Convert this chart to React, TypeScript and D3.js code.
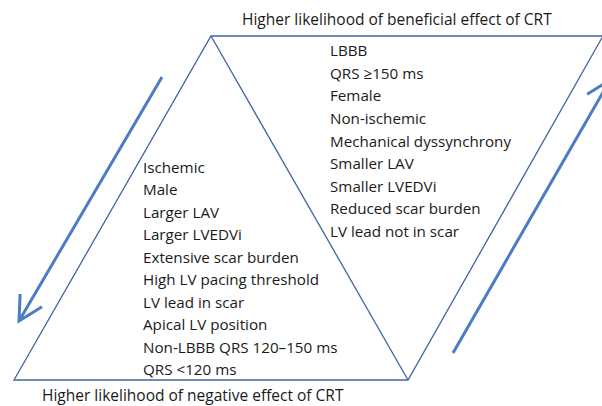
import React from "react";
import * as d3 from "d3";

const TOP_TITLE = "Higher likelihood of beneficial effect of CRT";
const BOTTOM_TITLE = "Higher likelihood of negative effect of CRT";

const BENEFIT_FACTORS = [
  "LBBB",
  "QRS \u2265150 ms",
  "Female",
  "Non-ischemic",
  "Mechanical dyssynchrony",
  "Smaller LAV",
  "Smaller LVEDVi",
  "Reduced scar burden",
  "LV lead not in scar",
];

const NEGATIVE_FACTORS = [
  "Ischemic",
  "Male",
  "Larger LAV",
  "Larger LVEDVi",
  "Extensive scar burden",
  "High LV pacing threshold",
  "LV lead in scar",
  "Apical LV position",
  "Non-LBBB QRS 120\u2013150 ms",
  "QRS <120 ms",
];

const W = 602;
const H = 406;
const FONT = "'Open Sans', 'Noto Sans', sans-serif";
const LINE = "#41659e";
const ARROW = "#4a7dc4";

// unit-space layout of the parallelogram (u across, v down)
const xs = d3.scaleLinear().domain([0, 1]).range([14, 603]);
const ys = d3.scaleLinear().domain([0, 1]).range([36, 380]);

function arrowPath(from: [number, number], tip: [number, number]) {
  const dx = from[0] - tip[0];
  const dy = from[1] - tip[1];
  const ang = Math.atan2(dy, dx);
  const len = 27;
  const a = (28 * Math.PI) / 180;
  const p = d3.path();
  p.moveTo(from[0], from[1]);
  p.lineTo(tip[0], tip[1]);
  p.moveTo(tip[0] + len * Math.cos(ang + a), tip[1] + len * Math.sin(ang + a));
  p.lineTo(tip[0], tip[1]);
  p.lineTo(tip[0] + len * Math.cos(ang - a), tip[1] + len * Math.sin(ang - a));
  return p.toString();
}

export default function App() {
  const apexU = (211 - 14) / (603 - 14);
  const brU = (408 - 14) / (603 - 14);
  const outline = d3.path();
  outline.moveTo(xs(0), ys(1));
  outline.lineTo(xs(apexU), ys(0));
  outline.lineTo(xs(1), ys(0));
  outline.lineTo(xs(brU), ys(1));
  outline.closePath();
  const diag = d3.path();
  diag.moveTo(xs(apexU), ys(0));
  diag.lineTo(xs(brU), ys(1));

  const benefitY = d3
    .scalePoint<number>()
    .domain(BENEFIT_FACTORS.map((_, i) => i))
    .range([56, 237]);
  const negY = d3
    .scalePoint<number>()
    .domain(NEGATIVE_FACTORS.map((_, i) => i))
    .range([173, 375]);

  return (
    <svg
      width={W}
      height={H}
      style={{ position: "absolute", left: 0, top: 0, background: "#fff" }}
    >
      <path d={outline.toString()} fill="none" stroke={LINE} strokeWidth={1.3} />
      <path d={diag.toString()} fill="none" stroke={LINE} strokeWidth={1.3} />
      <path
        d={arrowPath([162, 77], [19, 321])}
        fill="none"
        stroke={ARROW}
        strokeWidth={3}
      />
      <path
        d={arrowPath([453, 353], [610, 80])}
        fill="none"
        stroke={ARROW}
        strokeWidth={3}
      />
      <g fontFamily={FONT} fill="#1a1a1a">
        <text x={242} y={25} fontSize={15.5}>{TOP_TITLE}</text>
        <text x={42} y={401} fontSize={15.5}>{BOTTOM_TITLE}</text>
        {BENEFIT_FACTORS.map((t, i) => (
          <text key={"b" + i} x={330} y={benefitY(i)} fontSize={15.2}>
            {t}
          </text>
        ))}
        {NEGATIVE_FACTORS.map((t, i) => (
          <text key={"n" + i} x={143} y={negY(i)} fontSize={15.2}>
            {t}
          </text>
        ))}
      </g>
    </svg>
  );
}
